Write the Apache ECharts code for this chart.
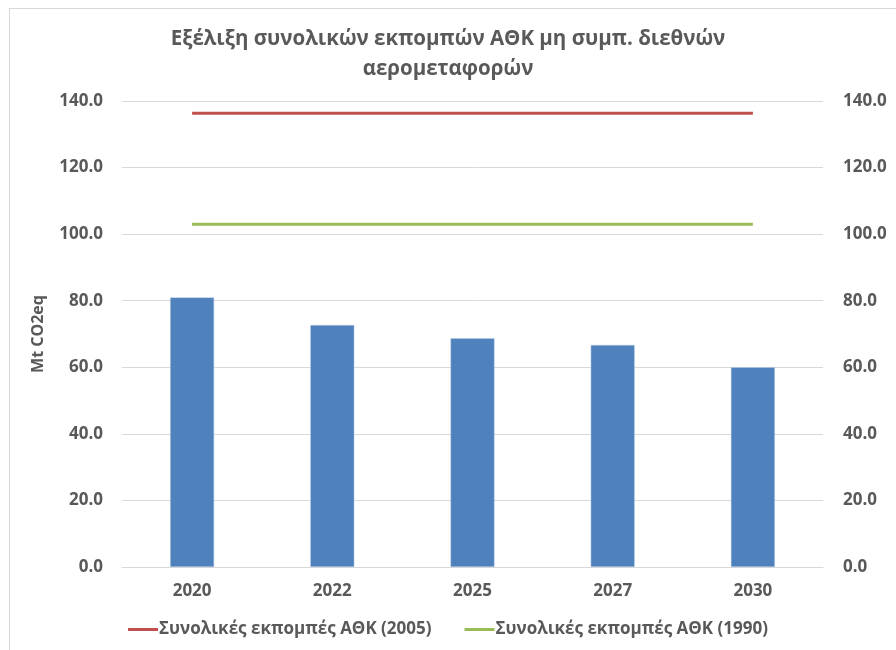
<!DOCTYPE html>
<html>
<head>
<meta charset="utf-8">
<script src="https://cdn.jsdelivr.net/npm/echarts@6/dist/echarts.min.js"></script>
<style>
  html, body { margin: 0; padding: 0; background: #fff; }
  #frame { position: absolute; left: 9px; top: 8px; width: 900px; height: 660px;
           border-top: 1px solid #d9d9d9; border-left: 1px solid #d9d9d9; }
  #chart { position: absolute; left: 0; top: 0; width: 896px; height: 650px; }
</style>
</head>
<body>
<div id="frame"></div>
<div id="chart"></div>
<script>
// κατηγορίες (έτη)
const years = ['2020', '2022', '2025', '2027', '2030'];
// συνολικές εκπομπές ανά έτος (Mt CO2eq)
const emissions = [81.0, 72.7, 68.7, 66.7, 60.0];
// επίπεδα αναφοράς
const ref2005 = [136.3, 136.3, 136.3, 136.3, 136.3];
const ref1990 = [103.0, 103.0, 103.0, 103.0, 103.0];
const yTicks = { min: 0, max: 140, interval: 20 };

const font = '"Open Sans", "Noto Sans", sans-serif';
const grey = '#595959';

const labelStyle = {
    color: grey, fontSize: 17, fontWeight: 'bold', fontFamily: font,
    formatter: (v) => v.toFixed(1)
};

const chart = echarts.init(document.getElementById('chart'));
chart.setOption({
    animation: false,
    title: {
        text: 'Εξέλιξη συνολικών εκπομπών ΑΘΚ μη συμπ. διεθνών\nαερομεταφορών',
        left: 'center', top: 19,
        textStyle: { color: grey, fontSize: 20.5, fontWeight: 'bold', fontFamily: font, lineHeight: 30 }
    },
    legend: {
        bottom: 7, left: 'center',
        data: ['Συνολικές εκπομπές ΑΘΚ (2005)', 'Συνολικές εκπομπές ΑΘΚ (1990)'],
        icon: 'rect', itemWidth: 30, itemHeight: 3, itemGap: 33,
        textStyle: { color: grey, fontSize: 17, fontWeight: 'bold', fontFamily: font, padding: [0, 0, 0, -4] }
    },
    grid: { left: 122, right: 73, top: 101, bottom: 83 },
    xAxis: {
        type: 'category', data: years,
        axisLine: { lineStyle: { color: '#d9d9d9', width: 1 } },
        axisTick: { show: false },
        axisLabel: { color: grey, fontSize: 17, fontWeight: 'bold', fontFamily: font, margin: 16 }
    },
    yAxis: [
        {
            type: 'value', ...yTicks,
            name: 'Mt CO2eq', nameLocation: 'middle', nameGap: 76, nameRotate: 90,
            nameTextStyle: { color: grey, fontSize: 16, fontWeight: 'bold', fontFamily: font },
            axisLine: { show: false }, axisTick: { show: false },
            axisLabel: { ...labelStyle, margin: 19 },
            splitLine: { lineStyle: { color: '#d9d9d9', width: 1 } }
        },
        {
            type: 'value', ...yTicks, position: 'right',
            axisLine: { show: false }, axisTick: { show: false },
            axisLabel: { ...labelStyle, margin: 20 },
            splitLine: { show: false }
        }
    ],
    series: [
        {
            name: 'Συνολικές εκπομπές', type: 'bar', data: emissions,
            barWidth: 44,
            itemStyle: { color: '#4F81BD', borderColor: '#b8cce4', borderWidth: 0.5 }
        },
        {
            name: 'Συνολικές εκπομπές ΑΘΚ (2005)', type: 'line', data: ref2005,
            symbol: 'none', lineStyle: { color: '#C0504D', width: 3 },
            itemStyle: { color: '#C0504D' }
        },
        {
            name: 'Συνολικές εκπομπές ΑΘΚ (1990)', type: 'line', data: ref1990,
            symbol: 'none', lineStyle: { color: '#9BBB59', width: 3 },
            itemStyle: { color: '#9BBB59' }
        }
    ]
});
</script>
</body>
</html>
